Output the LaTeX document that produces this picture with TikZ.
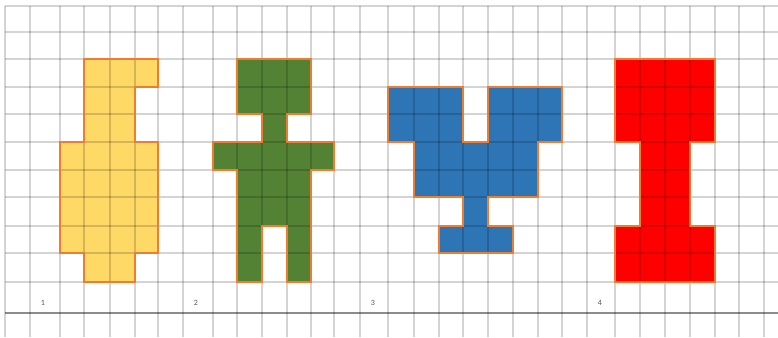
\documentclass[tikz,border=0pt]{standalone}
\usepackage{fontspec}
\setmainfont{Carlito}
\definecolor{gridc}{HTML}{000000}
\definecolor{yel}{HTML}{FFD966}
\definecolor{grn}{HTML}{548235}
\definecolor{blu}{HTML}{2E75B6}
\definecolor{rd}{HTML}{FF0000}
\definecolor{orng}{HTML}{ED7D31}
\definecolor{lbl}{HTML}{595959}
\tikzset{
  gridline/.style={draw=gridc, draw opacity=0.17, line width=1.6pt},
  shapefill/.style={fill=#1, draw=none},
  shapeedge/.style={draw=orng, line width=1.3pt, line join=miter},
  numlabel/.style={text=lbl, font=\fontsize{8}{9}\selectfont, inner sep=0pt}
}
\begin{document}
\begin{tikzpicture}[x=1pt,y=-1pt]
\useasboundingbox (0,0) rectangle (778,337);
\fill[white] (0,0) rectangle (778,337);
% shapes (fills)
\def\yellowshape{(84,59)--(158,59)--(158,87)--(135,87)--(135,142)--(158,142)--(158,253)--(135,253)--(135,282)--(84,282)--(84,253)--(60,253)--(60,142)--(84,142)--cycle}
\def\greenshape{(237,59)--(311,59)--(311,114)--(287,114)--(287,142)--(334,142)--(334,170)--(311,170)--(311,282)--(287,282)--(287,226)--(262,226)--(262,282)--(237,282)--(237,170)--(213,170)--(213,142)--(262,142)--(262,114)--(237,114)--cycle}
\def\blueshape{(388,87)--(463,87)--(463,142)--(488,142)--(488,87)--(562,87)--(562,142)--(538,142)--(538,197)--(488,197)--(488,226)--(513,226)--(513,253)--(439,253)--(439,226)--(463,226)--(463,197)--(414,197)--(414,142)--(388,142)--cycle}
\def\redshape{(615,59)--(715,59)--(715,142)--(690,142)--(690,226)--(715,226)--(715,282)--(615,282)--(615,226)--(640,226)--(640,142)--(615,142)--cycle}
\path[shapefill=yel] \yellowshape;
\path[shapefill=grn] \greenshape;
\path[shapefill=blu] \blueshape;
\path[shapefill=rd] \redshape;
% grid
\foreach \gx in {5,30,60,84,110,135,158,183,213,237,262,287,311,334,360,388,414,439,463,488,513,538,562,587,615,640,665,690,715,739,764}
  \draw[gridline] (\gx,6) -- (\gx,337);
\foreach \gy in {6,32,59,87,114,142,170,197,226,253,282}
  \draw[gridline] (5,\gy) -- (778,\gy);
\draw[draw=black, draw opacity=0.45, line width=1.6pt] (5,313) -- (778,313);
% outlines
\draw[shapeedge] \yellowshape;
\draw[shapeedge] \greenshape;
\draw[shapeedge] \blueshape;
\draw[shapeedge] \redshape;
% labels
\node[numlabel] (l1) at (43,303) {1};
\node[numlabel] (l2) at (196,303) {2};
\node[numlabel] (l3) at (373,303) {3};
\node[numlabel] (l4) at (600,303) {4};
\end{tikzpicture}
\end{document}
